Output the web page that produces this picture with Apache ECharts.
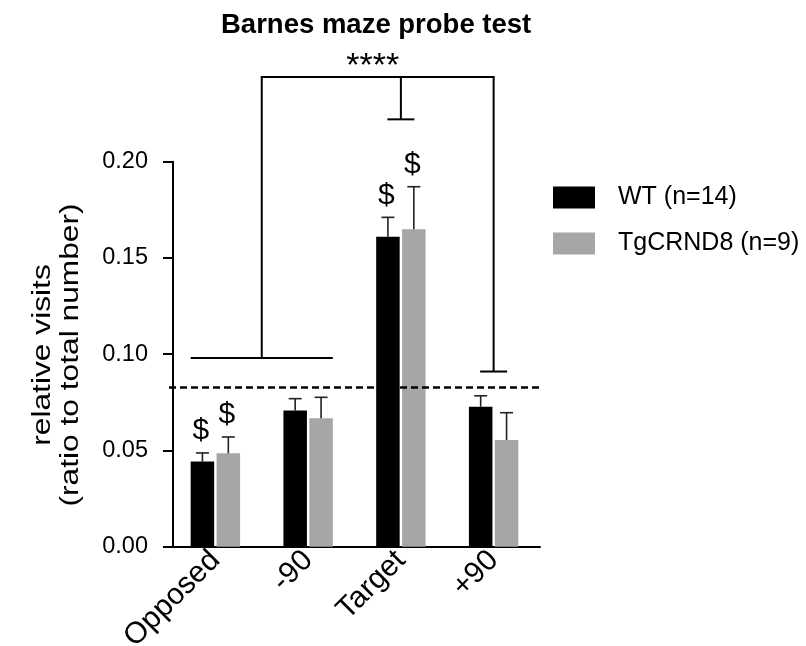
<!DOCTYPE html>
<html>
<head>
<meta charset="utf-8">
<script src="https://cdn.jsdelivr.net/npm/echarts@6/dist/echarts.min.js"></script>
<style>html,body{margin:0;padding:0;background:#fff;}#c{width:806px;height:646px;}</style>
</head>
<body>
<div id="c"></div>
<script>
const categories = ['Opposed', '-90', 'Target', '+90'];
const wtName = 'WT (n=14)';
const tgName = 'TgCRND8 (n=9)';
const wtMean = [0.0442, 0.0707, 0.1610, 0.0727];
const wtSem  = [0.0045, 0.0062, 0.0101, 0.0057];
const tgMean = [0.0485, 0.0667, 0.1649, 0.0554];
const tgSem  = [0.0085, 0.0109, 0.0221, 0.0142];
const wtMark = ['$', '', '$', ''];
const tgMark = ['$', '', '$', ''];
const chanceLevel = 0.083;
const yTicks = [0, 0.05, 0.10, 0.15, 0.20];
// significance bracket annotation (values in data units)
const sigGroupLevel = 0.098;   // bar joining Opposed and -90
const sigTopLevel = 0.244;     // top bar
const sigTargetFoot = 0.222;   // foot above Target
const sigPlus90Foot = 0.091;   // foot above +90
const sigText = '****';

const FONT = '"Liberation Sans", Arial, Helvetica, sans-serif';
const BAR_W = 23.5, BAR_GAP = 2.4;
const OFF = (BAR_W + BAR_GAP) / 2;

const chart = echarts.init(document.getElementById('c'), null, {renderer: 'canvas'});

function errRender(marks, off) {
  return function (params, api) {
    const i = api.value(0), m = api.value(1), s = api.value(2);
    const base = api.coord([i, m]);
    const top = api.coord([i, m + s]);
    const x = base[0] + off;
    const style = {stroke: '#222', lineWidth: 1.6};
    const children = [
      {type: 'line', shape: {x1: x, y1: base[1], x2: x, y2: top[1]}, style: style},
      {type: 'line', shape: {x1: x - 6.5, y1: top[1], x2: x + 6.5, y2: top[1]}, style: style}
    ];
    const mk = marks[params.dataIndex];
    if (mk) {
      children.push({type: 'text', style: {text: mk, x: x - 1.5, y: top[1] - 22, textAlign: 'center', textVerticalAlign: 'middle', font: '30px ' + FONT, fill: '#000'}});
    }
    return {type: 'group', children: children};
  };
}

chart.setOption({
  animation: false,
  backgroundColor: '#fff',
  title: {
    text: 'Barnes maze probe test',
    left: 216, top: 6,
    textStyle: {fontFamily: FONT, fontWeight: 'bold', fontSize: 27.5, color: '#000'}
  },
  legend: {
    data: [wtName, tgName],
    orient: 'vertical',
    left: 548, top: 180,
    icon: 'rect',
    itemWidth: 42, itemHeight: 22, itemGap: 21,
    textStyle: {fontFamily: FONT, fontSize: 25, color: '#000', padding: [0, 0, 0, 18]}
  },
  grid: {left: 169, top: 161.7, width: 371, height: 385, containLabel: false, outerBoundsMode: 'none'},
  xAxis: {
    type: 'category',
    data: categories,
    axisLine: {lineStyle: {color: '#000', width: 2}},
    axisTick: {show: false},
    axisLabel: {rotate: 45, margin: 9, fontFamily: FONT, fontSize: 30, color: '#000', interval: 0}
  },
  yAxis: {
    type: 'value',
    min: yTicks[0], max: yTicks[yTicks.length - 1], interval: 0.05,
    offset: -4,
    splitLine: {show: false},
    axisLine: {show: true, lineStyle: {color: '#000', width: 2}},
    axisTick: {show: true, length: 10, lineStyle: {color: '#000', width: 2}},
    axisLabel: {margin: 25, fontFamily: FONT, fontSize: 23.5, color: '#000', formatter: v => v.toFixed(2)}
  },
  series: [
    {
      name: wtName, type: 'bar', data: wtMean, barWidth: BAR_W, barGap: (BAR_GAP / BAR_W * 100) + '%',
      itemStyle: {color: '#000'},
      markLine: {
        silent: true, symbol: ['none', 'none'], label: {show: false}, precision: 5,
        lineStyle: {type: [7, 4], color: '#000', width: 2.5},
        data: [{yAxis: chanceLevel}]
      }
    },
    {
      name: tgName, type: 'bar', data: tgMean, barWidth: BAR_W,
      itemStyle: {color: '#a6a6a6'}
    },
    {
      type: 'custom', z: 5, clip: false,
      data: wtMean.map((m, i) => [i, m, wtSem[i]]),
      encode: {x: 0, y: 1},
      renderItem: errRender(wtMark, -OFF)
    },
    {
      type: 'custom', z: 5, clip: false,
      data: tgMean.map((m, i) => [i, m, tgSem[i]]),
      encode: {x: 0, y: 1},
      renderItem: errRender(tgMark, OFF)
    }
  ]
});

function px(i, v) { return chart.convertToPixel({xAxisIndex: 0, yAxisIndex: 0}, [i, v]); }
const c0 = px(0, 0)[0], c1 = px(1, 0)[0], c2 = px(2, 0)[0], c3 = px(3, 0)[0];
const yG = px(0, sigGroupLevel)[1];
const yT = px(0, sigTopLevel)[1];
const yTF = px(0, sigTargetFoot)[1];
const yPF = px(0, sigPlus90Foot)[1];
const gl = c0 - (BAR_W + BAR_GAP / 2), gr = c1 + (BAR_W + BAR_GAP / 2);
const gm = (c0 + c1) / 2;
const ls = {stroke: '#000', lineWidth: 2};
const foot = 13.5;

chart.setOption({
  graphic: [
    {type: 'line', shape: {x1: gl, y1: yG, x2: gr, y2: yG}, style: ls},
    {type: 'line', shape: {x1: gm, y1: yG, x2: gm, y2: yT}, style: ls},
    {type: 'line', shape: {x1: gm - 1, y1: yT, x2: c3 + 1, y2: yT}, style: ls},
    {type: 'line', shape: {x1: c2, y1: yT, x2: c2, y2: yTF}, style: ls},
    {type: 'line', shape: {x1: c2 - foot, y1: yTF, x2: c2 + foot, y2: yTF}, style: ls},
    {type: 'line', shape: {x1: c3, y1: yT, x2: c3, y2: yPF}, style: ls},
    {type: 'line', shape: {x1: c3 - foot, y1: yPF, x2: c3 + foot, y2: yPF}, style: ls},
    {type: 'text', x: (gm + c3) / 2 - 5, y: yT - 10, style: {text: sigText, textAlign: 'center', textVerticalAlign: 'middle', font: '34px ' + FONT, fill: '#000'}},
    {type: 'text', x: 43, y: 355, rotation: Math.PI / 2, scaleX: 1.22, style: {text: 'relative visits', textAlign: 'center', textVerticalAlign: 'middle', font: '26px ' + FONT, fill: '#000'}},
    {type: 'text', x: 71, y: 355, rotation: Math.PI / 2, scaleX: 1.22, style: {text: '(ratio to total number)', textAlign: 'center', textVerticalAlign: 'middle', font: '26px ' + FONT, fill: '#000'}}
  ]
});
</script>
</body>
</html>
